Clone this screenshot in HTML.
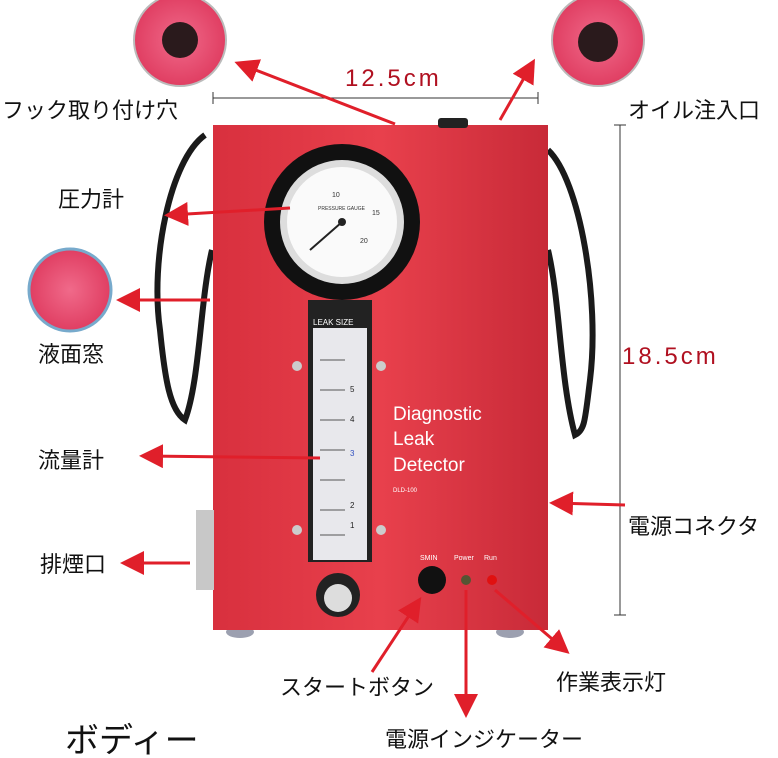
<!DOCTYPE html>
<html><head><meta charset="utf-8"><style>
html,body{margin:0;padding:0;background:#fff;}
svg{display:block;}
text{font-family:"Liberation Sans","Noto Sans CJK JP",sans-serif;}
</style></head><body>
<svg width="778" height="758" viewBox="0 0 778 758" xmlns="http://www.w3.org/2000/svg">
<defs>
<marker id="ah" markerWidth="8" markerHeight="8" refX="6" refY="4" orient="auto" markerUnits="strokeWidth"><path d="M0,0 L8,4 L0,8 z" fill="#e01f2a"/></marker>
<radialGradient id="pink" cx="50%" cy="50%" r="50%"><stop offset="0" stop-color="#f06a8a"/><stop offset="1" stop-color="#e03e62"/></radialGradient>
<linearGradient id="body" x1="0" x2="1"><stop offset="0" stop-color="#d8303e"/><stop offset="0.5" stop-color="#e8404c"/><stop offset="1" stop-color="#c82a38"/></linearGradient>
</defs>
<rect width="778" height="758" fill="#fff"/>
<path d="M205,135 C170,160 150,260 160,330 C165,380 170,410 185,420 C200,380 200,300 212,250" fill="none" stroke="#1a1a1a" stroke-width="6"/>
<path d="M548,150 C580,180 600,300 590,380 C585,420 585,430 575,435 C560,380 560,300 548,250" fill="none" stroke="#1a1a1a" stroke-width="6"/>
<ellipse cx="240" cy="632" rx="14" ry="6" fill="#9ca0b0"/>
<ellipse cx="510" cy="632" rx="14" ry="6" fill="#9ca0b0"/>
<rect x="213" y="125" width="335" height="505" fill="url(#body)"/>
<rect x="196" y="510" width="18" height="80" fill="#c8c8c8"/>
<rect x="438" y="118" width="30" height="10" rx="3" fill="#222"/>
<circle cx="342" cy="222" r="78" fill="#111"/>
<circle cx="342" cy="222" r="62" fill="#ddd"/>
<circle cx="342" cy="222" r="55" fill="#fafafa"/>
<text x="332" y="197" font-size="7" fill="#333">10</text>
<text x="372" y="215" font-size="7" fill="#333">15</text>
<text x="360" y="243" font-size="7" fill="#333">20</text>
<text x="318" y="210" font-size="5" fill="#333">PRESSURE GAUGE</text>
<line x1="342" y1="222" x2="310" y2="250" stroke="#222" stroke-width="2"/>
<circle cx="342" cy="222" r="4" fill="#222"/>
<rect x="308" y="300" width="64" height="262" fill="#222"/>
<rect x="313" y="328" width="54" height="232" fill="#e8e8ec"/>
<text x="313" y="325" font-size="8" fill="#fff">LEAK SIZE</text>
<g stroke="#555" stroke-width="1">
<line x1="320" y1="360" x2="345" y2="360"/><line x1="320" y1="390" x2="345" y2="390"/><line x1="320" y1="420" x2="345" y2="420"/><line x1="320" y1="450" x2="345" y2="450"/><line x1="320" y1="480" x2="345" y2="480"/><line x1="320" y1="510" x2="345" y2="510"/><line x1="320" y1="535" x2="345" y2="535"/>
</g>
<text x="350" y="392" font-size="8" fill="#222">5</text><text x="350" y="422" font-size="8" fill="#222">4</text><text x="350" y="456" font-size="8" fill="#3050c0">3</text><text x="350" y="508" font-size="8" fill="#222">2</text><text x="350" y="528" font-size="8" fill="#222">1</text>
<g fill="#ccc"><circle cx="297" cy="366" r="5"/><circle cx="381" cy="366" r="5"/><circle cx="297" cy="530" r="5"/><circle cx="381" cy="530" r="5"/></g>
<circle cx="338" cy="595" r="22" fill="#222"/><circle cx="338" cy="598" r="14" fill="#ddd"/>
<text x="393" y="420" font-size="19" fill="#fff">Diagnostic</text>
<text x="393" y="445" font-size="19" fill="#fff">Leak</text>
<text x="393" y="471" font-size="19" fill="#fff">Detector</text>
<text x="393" y="492" font-size="6" fill="#fff">DLD-100</text>
<text x="420" y="560" font-size="7" fill="#fff">SMIN</text><text x="454" y="560" font-size="7" fill="#fff">Power</text><text x="484" y="560" font-size="7" fill="#fff">Run</text>
<circle cx="432" cy="580" r="14" fill="#111"/>
<circle cx="466" cy="580" r="5" fill="#553"/><circle cx="492" cy="580" r="5" fill="#e01010"/>
<circle cx="180" cy="40" r="46" fill="url(#pink)" stroke="#bbb" stroke-width="2"/><circle cx="180" cy="40" r="18" fill="#2a1a1c"/>
<circle cx="598" cy="40" r="46" fill="url(#pink)" stroke="#bbb" stroke-width="2"/><circle cx="598" cy="42" r="20" fill="#2a1a1c"/>
<circle cx="70" cy="290" r="41" fill="url(#pink)" stroke="#7ac" stroke-width="3"/>
<line x1="213" y1="98" x2="538" y2="98" stroke="#333"/><line x1="213" y1="92" x2="213" y2="104" stroke="#333"/><line x1="538" y1="92" x2="538" y2="104" stroke="#333"/>
<line x1="620" y1="125" x2="620" y2="615" stroke="#333"/><line x1="614" y1="125" x2="626" y2="125" stroke="#333"/><line x1="614" y1="615" x2="626" y2="615" stroke="#333"/>
<text x="345" y="86" font-size="24" fill="#b01020" font-family="Liberation Serif" letter-spacing="3">12.5cm</text>
<text x="622" y="364" font-size="24" fill="#b01020" font-family="Liberation Serif" letter-spacing="3">18.5cm</text>
<g stroke="#e01f2a" stroke-width="3" fill="none" marker-end="url(#ah)">
<line x1="395" y1="124" x2="240" y2="64"/>
<line x1="500" y1="120" x2="532" y2="64"/>
<line x1="290" y1="208" x2="170" y2="215"/>
<line x1="210" y1="300" x2="122" y2="300"/>
<line x1="320" y1="458" x2="145" y2="456"/>
<line x1="190" y1="563" x2="126" y2="563"/>
<line x1="625" y1="505" x2="555" y2="503"/>
<line x1="372" y1="672" x2="418" y2="602"/>
<line x1="466" y1="590" x2="466" y2="712"/>
<line x1="495" y1="590" x2="565" y2="650"/>
</g>
<g font-size="22" fill="#111">
<text x="2" y="118">フック取り付け穴</text>
<text x="628" y="118">オイル注入口</text>
<text x="58" y="207">圧力計</text>
<text x="38" y="362">液面窓</text>
<text x="38" y="468">流量計</text>
<text x="40" y="572">排煙口</text>
<text x="628" y="534">電源コネクタ</text>
<text x="280" y="695">スタートボタン</text>
<text x="556" y="690">作業表示灯</text>
<text x="385" y="747">電源インジケーター</text>
</g>
<text x="65" y="752" font-size="34" fill="#111">ボディー</text>
</svg>
</body></html>
